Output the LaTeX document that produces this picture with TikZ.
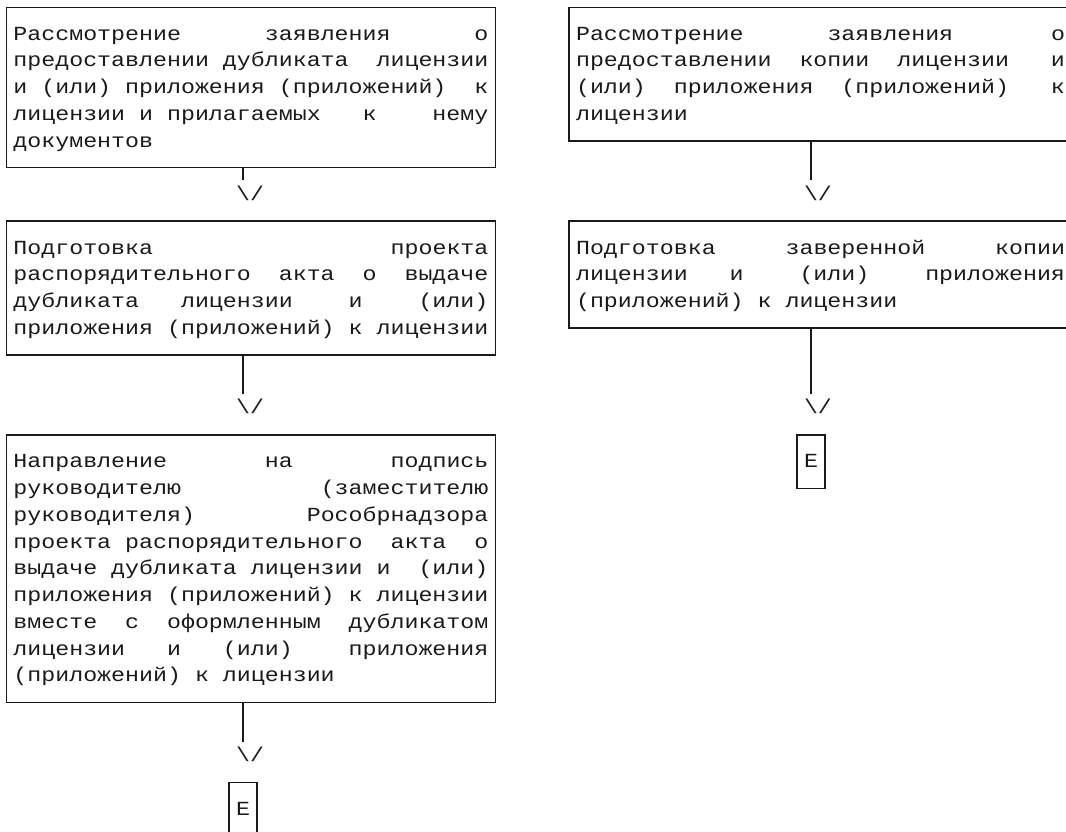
\documentclass[tikz,border=0pt]{standalone}
\usepackage{fontspec}
\newfontfamily\monof[WordSpace={1,0,0},FakeStretch=1.164]{Liberation Mono}
\newcommand\txt{\monof\fontsize{20pt}{26.74pt}\selectfont\frenchspacing}
\newcommand\rs{\vrule height 19.5pt depth 7.24pt width 0pt\relax}
\definecolor{ink}{HTML}{1A1A1A}
\tikzset{
  boxst/.style={draw=ink, line width=1.5pt, inner xsep=6.985pt, inner ysep=13.37pt,
    align=left, anchor=north west, font=\txt, text=ink},
  ebox/.style={boxst, anchor=north},
  vst/.style={inner sep=0pt, anchor=north, font=\txt, text=ink},
  conn/.style={draw=ink, line width=1.5pt}
}
\begin{document}
\begin{tikzpicture}[x=1pt,y=-1pt]
\useasboundingbox (0,0) rectangle (1066,831);
\fill[white] (0,0) rectangle (1066,831);
\clip (0,0) rectangle (1066,831);

% left column
\node[boxst] (l1) at (5.7,6.5) {%
\rs Рассмотрение~~~~~~заявления~~~~~~о\\
\rs предоставлении~дубликата~~лицензии\\
\rs и~(или)~приложения~(приложений)~~к\\
\rs лицензии~и~прилагаемых~~~к~~~~нему\\
\rs документов};

\node[boxst] (l2) at (5.7,220.42) {%
\rs Подготовка~~~~~~~~~~~~~~~~~проекта\\
\rs распорядительного~~акта~~о~~выдаче\\
\rs дубликата~~~лицензии~~~~и~~~~(или)\\
\rs приложения~(приложений)~к~лицензии};

\node[boxst] (l3) at (5.7,434.34) {%
\rs Направление~~~~~~~на~~~~~~~подпись\\
\rs руководителю~~~~~~~~~~(заместителю\\
\rs руководителя)~~~~~~~~Рособрнадзора\\
\rs проекта~распорядительного~~акта~~о\\
\rs выдаче~дубликата~лицензии~и~~(или)\\
\rs приложения~(приложений)~к~лицензии\\
\rs вместе~~с~~оформленным~~дубликатом\\
\rs лицензии~~~и~~~(или)~~~~приложения\\
\rs (приложений)~к~лицензии};

\node[vst] (lv1) at (250.185,180.31) {\rs\textbackslash/};
\node[vst] (lv2) at (250.185,394.23) {\rs\textbackslash/};
\node[vst] (lv3) at (250.185,741.85) {\rs\textbackslash/};
\node[ebox] (le) at (243.2,781.96) {\rs E};

\coordinate (ls1) at ([xshift=-6.985pt]lv1.north);
\coordinate (ls2) at ([xshift=-6.985pt]lv2.north);
\coordinate (ls3) at ([xshift=-6.985pt]lv3.north);
\draw[conn] (l1.south -| ls1) -- (ls1);
\draw[conn] (l2.south -| ls2) -- (ls2);
\draw[conn] (l3.south -| ls3) -- (ls3);

% right column
\node[boxst] (r1) at (568.3,6.5) {%
\rs Рассмотрение~~~~~~заявления~~~~~~~о\\
\rs предоставлении~~копии~~лицензии~~~и\\
\rs (или)~~приложения~~(приложений)~~~к\\
\rs лицензии};

\node[boxst] (r2) at (568.3,220.42) {%
\rs Подготовка~~~~~заверенной~~~~~копии\\
\rs лицензии~~~и~~~~(или)~~~~приложения\\
\rs (приложений)~к~лицензии};

\node[vst] (rv1) at (817.985,180.31) {\rs\textbackslash/};
\node[vst] (rv2) at (817.985,394.23) {\rs\textbackslash/};
\node[ebox] (re) at (811,434.34) {\rs E};

\coordinate (rs1) at ([xshift=-6.985pt]rv1.north);
\coordinate (rs2) at ([xshift=-6.985pt]rv2.north);
\draw[conn] (r1.south -| rs1) -- (rs1);
\draw[conn] (r2.south -| rs2) -- (rs2);
\end{tikzpicture}
\end{document}
